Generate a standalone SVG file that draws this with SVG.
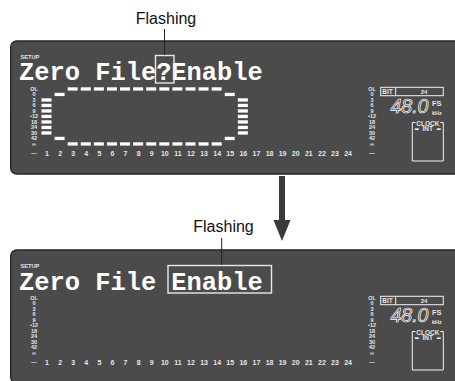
<svg xmlns="http://www.w3.org/2000/svg" xmlns:xlink="http://www.w3.org/1999/xlink" width="455" height="381" viewBox="0 0 455 381">
<style>
.panel{fill:#4b4b4b;stroke:#262626;stroke-width:1.4}
.lcd{font-family:"Liberation Mono","DejaVu Sans Mono",monospace;font-weight:bold;font-size:25.4px;fill:#fff}
.sm{font-family:"Liberation Sans",Arial,sans-serif;font-weight:bold;fill:#e6e6e6}
.lvl{font-size:5.5px;text-anchor:middle}
.ch{font-size:7px;text-anchor:middle}
.seg{fill:#fff}
.frame{fill:none;stroke:#f2f2f2;stroke-width:1}
.call{font-family:"Liberation Sans",Arial,sans-serif;font-size:16px;fill:#111;text-anchor:middle}
.lead{stroke:#222;stroke-width:1;fill:none}
.hl{fill:none;stroke:#e8e8e8;stroke-width:1.4}
</style>
<defs>
<g id="levels" class="sm lvl">
<text y="91">OL</text><text y="96.3">0</text><text y="101.8">3</text><text y="107.3">6</text><text y="112.8">9</text><text y="118.3">•12</text><text y="123.8">18</text><text y="129.3">24</text><text y="134.8">30</text><text y="140.3">42</text><text y="145.8">∞</text><text y="155.3">—</text>
</g>
<g id="scale">
<use xlink:href="#levels" x="34"/>
<use xlink:href="#levels" x="372"/>
<text class="sm ch" y="155.5"><tspan x="47">1</tspan><tspan x="60.09">2</tspan><tspan x="73.18">3</tspan><tspan x="86.27">4</tspan><tspan x="99.36">5</tspan><tspan x="112.45">6</tspan><tspan x="125.54">7</tspan><tspan x="138.63">8</tspan><tspan x="151.72">9</tspan><tspan x="164.81">10</tspan><tspan x="177.9">11</tspan><tspan x="190.99">12</tspan><tspan x="204.08">13</tspan><tspan x="217.17">14</tspan><tspan x="230.26">15</tspan><tspan x="243.35">16</tspan><tspan x="256.44">17</tspan><tspan x="269.53">18</tspan><tspan x="282.62">19</tspan><tspan x="295.71">20</tspan><tspan x="308.8">21</tspan><tspan x="321.89">22</tspan><tspan x="334.98">23</tspan><tspan x="348.07">24</tspan></text>
<text class="sm" x="20.5" y="59" font-size="5.6">SETUP</text>
<rect class="frame" x="380.7" y="87.3" width="62.6" height="8.4"/>
<line class="frame" x1="395.7" y1="87.3" x2="395.7" y2="95.7"/>
<text class="sm" x="382.3" y="94.2" font-size="6.5">BIT</text>
<text class="sm" x="424" y="94" font-size="6" text-anchor="middle">24</text>
<text x="390.5" y="113" font-family="Liberation Sans,Arial,sans-serif" font-style="italic" font-size="19.5" fill="none" stroke="#fff" stroke-width="0.7">48.0</text>
<text class="sm" x="432" y="106" font-size="7.5">FS</text>
<text class="sm" x="432" y="115" font-size="5.5">kHz</text>
<path class="frame" d="M415.5,122.5H412.3V161H443.3V122.5H440.3"/>
<text class="sm" x="427.8" y="125.5" font-size="6.5" text-anchor="middle">CLOCK</text>
<text class="sm" x="427.8" y="131.3" font-size="6.5" text-anchor="middle">INT</text>
<rect class="seg" x="414.8" y="128.4" width="4" height="1.5"/>
<rect class="seg" x="436.8" y="128.4" width="4" height="1.5"/>
</g>
</defs>

<g id="callout-top">
<text class="call" x="166" y="23.5">Flashing</text>
</g>

<g id="panel1">
<rect class="panel" x="10.7" y="41" width="460" height="133" rx="6"/>
<use xlink:href="#scale"/>
<text class="lcd" x="19" y="80">Zero File?Enable</text>
<rect class="hl" x="155.5" y="55.5" width="18.5" height="27.5"/>
<g id="meter-frame">
<rect class="seg" x="41.5" y="98.3" width="10" height="3.3"/><rect class="seg" x="41.5" y="103.8" width="10" height="3.3"/><rect class="seg" x="41.5" y="109.3" width="10" height="3.3"/><rect class="seg" x="41.5" y="114.8" width="10" height="3.3"/><rect class="seg" x="41.5" y="120.3" width="10" height="3.3"/><rect class="seg" x="41.5" y="125.8" width="10" height="3.3"/><rect class="seg" x="41.5" y="131.3" width="10" height="3.3"/>
<rect class="seg" x="54.59" y="92.8" width="10" height="3.3"/><rect class="seg" x="54.59" y="136.8" width="10" height="3.3"/>
<rect class="seg" x="67.68" y="87.3" width="10" height="3.3"/><rect class="seg" x="67.68" y="142.3" width="10" height="3.3"/>
<rect class="seg" x="80.77" y="87.3" width="10" height="3.3"/><rect class="seg" x="80.77" y="142.3" width="10" height="3.3"/>
<rect class="seg" x="93.86" y="87.3" width="10" height="3.3"/><rect class="seg" x="93.86" y="142.3" width="10" height="3.3"/>
<rect class="seg" x="106.95" y="87.3" width="10" height="3.3"/><rect class="seg" x="106.95" y="142.3" width="10" height="3.3"/>
<rect class="seg" x="120.04" y="87.3" width="10" height="3.3"/><rect class="seg" x="120.04" y="142.3" width="10" height="3.3"/>
<rect class="seg" x="133.13" y="87.3" width="10" height="3.3"/><rect class="seg" x="133.13" y="142.3" width="10" height="3.3"/>
<rect class="seg" x="146.22" y="87.3" width="10" height="3.3"/><rect class="seg" x="146.22" y="142.3" width="10" height="3.3"/>
<rect class="seg" x="159.31" y="87.3" width="10" height="3.3"/><rect class="seg" x="159.31" y="142.3" width="10" height="3.3"/>
<rect class="seg" x="172.4" y="87.3" width="10" height="3.3"/><rect class="seg" x="172.4" y="142.3" width="10" height="3.3"/>
<rect class="seg" x="185.49" y="87.3" width="10" height="3.3"/><rect class="seg" x="185.49" y="142.3" width="10" height="3.3"/>
<rect class="seg" x="198.58" y="87.3" width="10" height="3.3"/><rect class="seg" x="198.58" y="142.3" width="10" height="3.3"/>
<rect class="seg" x="211.67" y="87.3" width="10" height="3.3"/><rect class="seg" x="211.67" y="142.3" width="10" height="3.3"/>
<rect class="seg" x="224.76" y="92.8" width="10" height="3.3"/><rect class="seg" x="224.76" y="136.8" width="10" height="3.3"/>
<rect class="seg" x="237.85" y="98.3" width="10" height="3.3"/><rect class="seg" x="237.85" y="103.8" width="10" height="3.3"/><rect class="seg" x="237.85" y="109.3" width="10" height="3.3"/><rect class="seg" x="237.85" y="114.8" width="10" height="3.3"/><rect class="seg" x="237.85" y="120.3" width="10" height="3.3"/><rect class="seg" x="237.85" y="125.8" width="10" height="3.3"/><rect class="seg" x="237.85" y="131.3" width="10" height="3.3"/>
</g>
</g>

<g id="callout-bottom">
<text class="call" x="223.5" y="232">Flashing</text>
</g>

<g id="panel2">
<rect class="panel" x="10.7" y="250" width="460" height="133" rx="6"/>
<use xlink:href="#scale" y="209"/>
<text class="lcd" x="19" y="289.5">Zero File Enable</text>
<rect class="hl" x="168" y="265.5" width="103.5" height="27.5" stroke-width="1.6"/>
</g>

<g id="connectors">
<line class="lead" x1="164.5" y1="29" x2="164.5" y2="55"/>
<line class="lead" x1="221.7" y1="238" x2="221.7" y2="265"/>
<rect x="279" y="176" width="6" height="45" fill="#3a3a3a"/>
<polygon points="273.5,220 290.5,220 282,241" fill="#3a3a3a"/>
</g>
</svg>
